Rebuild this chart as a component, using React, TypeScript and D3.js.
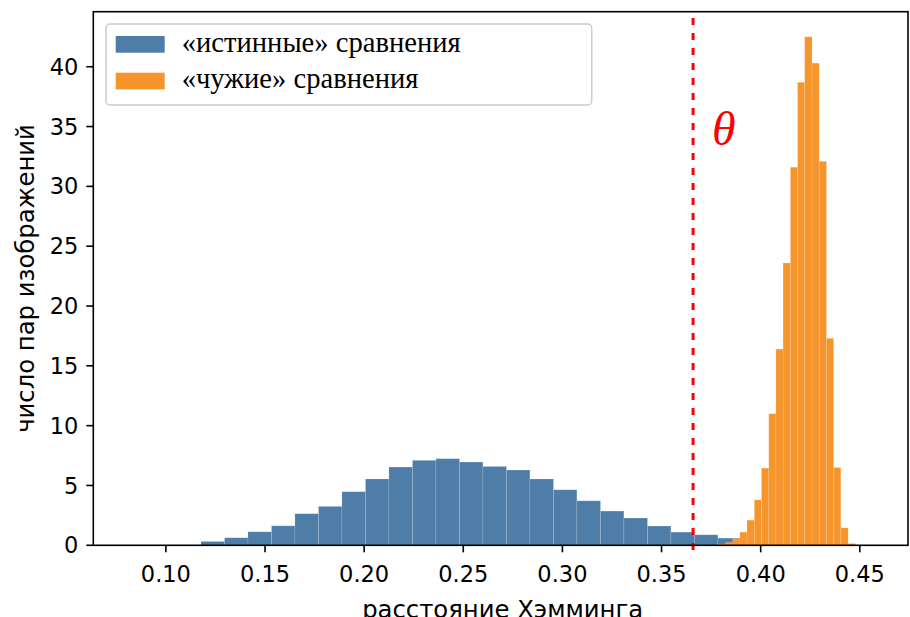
import * as d3 from "d3";

// histogram bin edges (hamming distance) and density heights
const genuineEdges = [
  0.1177, 0.1296, 0.1414, 0.1533, 0.1651, 0.177, 0.1888, 0.2007, 0.2125, 0.2244,
  0.2362, 0.2481, 0.2599, 0.2718, 0.2836, 0.2955, 0.3073, 0.3192, 0.331, 0.3429,
  0.3547, 0.3666, 0.3784, 0.3903,
];
const genuineValues = [
  0.32, 0.63, 1.13, 1.63, 2.64, 3.25, 4.48, 5.54, 6.54, 7.1, 7.24, 6.96, 6.59,
  6.29, 5.54, 4.64, 3.72, 2.86, 2.28, 1.61, 1.1, 0.88, 0.6,
];

const impostorEdges = [
  0.3786, 0.3822, 0.3859, 0.3895, 0.3931, 0.3968, 0.4004, 0.4041, 0.4077, 0.4113,
  0.415, 0.4186, 0.4222, 0.4259, 0.4295, 0.4332, 0.4368, 0.4404, 0.4441, 0.4477,
];
const impostorValues = [
  0.1, 0.25, 0.57, 1.1, 2.1, 3.8, 6.45, 11.0, 16.4, 23.6, 31.6, 38.7, 42.5, 40.3,
  32.1, 17.3, 6.5, 1.46, 0.15,
];

const threshold = 0.3659;
const xTicks = [0.1, 0.15, 0.2, 0.25, 0.3, 0.35, 0.4, 0.45];
const yTicks = [0, 5, 10, 15, 20, 25, 30, 35, 40];
const xDomain = [0.0634, 0.4743];
const yDomain = [0, 44.6];

const legendLabels = ["«истинные» сравнения", "«чужие» сравнения"];
const xLabel = "расстояние Хэмминга";
const yLabel = "число пар изображений";

const BLUE = "#4e7ea8";
const ORANGE = "#f7952d";

const W = 910;
const H = 617;
const margin = { left: 93.3, right: 2, top: 11.7, bottom: 71.7 };

export default function App() {
  const x = d3
    .scaleLinear()
    .domain(xDomain)
    .range([margin.left, W - margin.right]);
  const y = d3
    .scaleLinear()
    .domain(yDomain)
    .range([H - margin.bottom, margin.top]);

  const bars = (edges: number[], values: number[], color: string) =>
    values.map((v, i) => (
      <rect
        key={i}
        x={x(edges[i])}
        y={y(v)}
        width={x(edges[i + 1]) - x(edges[i])}
        height={y(0) - y(v)}
        fill={color}
        stroke="rgba(255,255,255,0.16)"
        strokeWidth={0.8}
      />
    ));

  const tickFont = { fontFamily: "DejaVu Sans", fontSize: 22.5 };
  const labelFont = { fontFamily: "DejaVu Sans", fontSize: 24.3 };

  return (
    <svg
      width={W}
      height={H}
      style={{ position: "absolute", left: 0, top: 0, background: "#fff" }}
    >
      {bars(genuineEdges, genuineValues, BLUE)}
      {bars(impostorEdges, impostorValues, ORANGE)}

      {/* threshold */}
      <line
        x1={x(threshold)}
        x2={x(threshold)}
        y1={y(-0.4)}
        y2={y(yDomain[1]) + 2}
        stroke="#f00"
        strokeWidth={3}
        strokeDasharray="7,8"
      />
      <text
        x={x(threshold) + 19}
        y={y(33.5)}
        fill="#f00"
        fontFamily="Liberation Serif"
        fontStyle="italic"
        fontSize={48}
      >
        θ
      </text>

      {/* spines */}
      <rect
        x={margin.left}
        y={margin.top}
        width={W - margin.right - margin.left}
        height={H - margin.bottom - margin.top}
        fill="none"
        stroke="#000"
        strokeWidth={1.6}
      />

      {/* x axis */}
      {xTicks.map((t) => (
        <g key={t}>
          <line
            x1={x(t)}
            x2={x(t)}
            y1={y(0)}
            y2={y(0) + 7}
            stroke="#000"
            strokeWidth={1.6}
          />
          <text x={x(t)} y={y(0) + 37} textAnchor="middle" {...tickFont}>
            {d3.format(".2f")(t)}
          </text>
        </g>
      ))}
      <text
        x={(x(xDomain[0]) + x(xDomain[1])) / 2 + 2}
        y={618}
        textAnchor="middle"
        {...labelFont}
      >
        {xLabel}
      </text>

      {/* y axis */}
      {yTicks.map((t) => (
        <g key={t}>
          <line
            x1={margin.left - 7}
            x2={margin.left}
            y1={y(t)}
            y2={y(t)}
            stroke="#000"
            strokeWidth={1.6}
          />
          <text
            x={margin.left - 15}
            y={y(t)}
            dy="0.36em"
            textAnchor="end"
            {...tickFont}
          >
            {t}
          </text>
        </g>
      ))}
      <text
        transform={`translate(34, ${(y(yDomain[0]) + y(yDomain[1])) / 2}) rotate(-90)`}
        textAnchor="middle"
        {...labelFont}
      >
        {yLabel}
      </text>

      {/* legend */}
      <rect
        x={106}
        y={24}
        width={485.7}
        height={81}
        rx={4}
        fill="rgba(255,255,255,0.8)"
        stroke="#ccc"
        strokeWidth={1.5}
      />
      {legendLabels.map((label, i) => (
        <g key={label}>
          <rect
            x={115.7}
            y={36 + i * 36.7}
            width={49}
            height={16.7}
            fill={i === 0 ? BLUE : ORANGE}
          />
          <text
            x={181.7}
            y={52 + i * 35.7}
            fontFamily="Liberation Serif"
            fontSize={28.6}
          >
            {label}
          </text>
        </g>
      ))}
    </svg>
  );
}
